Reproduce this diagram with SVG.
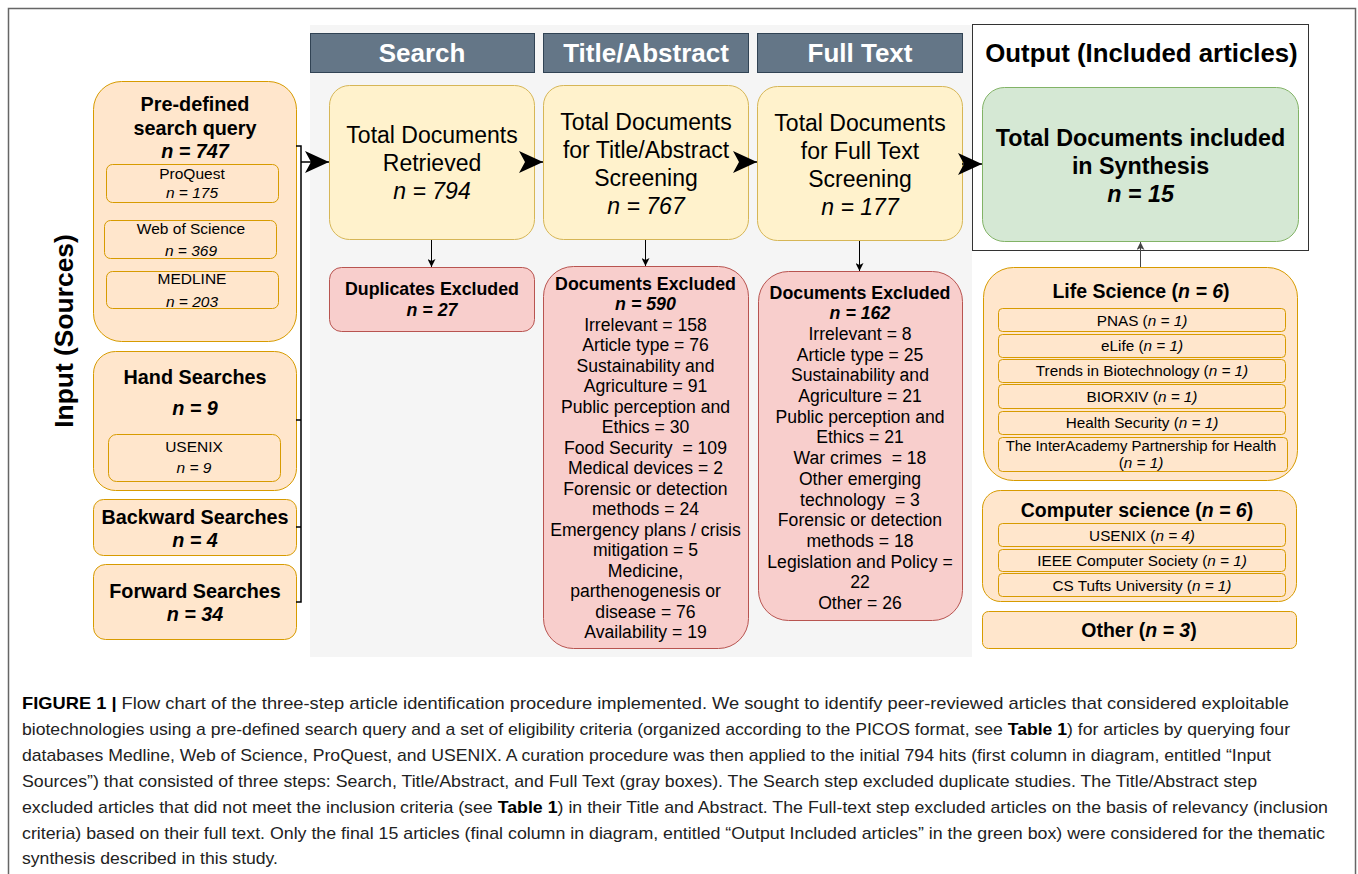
<svg xmlns="http://www.w3.org/2000/svg" width="1358" height="874" viewBox="0 0 1358 874">
  <style>
    text { font-family: "Liberation Sans", Arial, Helvetica, sans-serif; fill: #000; }
    .c { text-anchor: middle; }
    .b { font-weight: bold; }
    .i { font-style: italic; }
    .pre { white-space: pre; }
    .orange { fill: #ffe6cc; stroke: #d79b00; stroke-width: 1; }
    .yellow { fill: #fff2cc; stroke: #d6b656; stroke-width: 1; }
    .red { fill: #f8cecc; stroke: #b85450; stroke-width: 1; }
    .green { fill: #d5e8d4; stroke: #82b366; stroke-width: 1; }
    .head { fill: #647687; stroke: #314354; stroke-width: 1; }
    .headtxt { font-size: 26px; font-weight: bold; fill: #fff; text-anchor: middle; }
    .big { font-size: 23px; text-anchor: middle; }
    .src { font-size: 19.8px; font-weight: bold; text-anchor: middle; }
    .sub { font-size: 15.5px; text-anchor: middle; }
    .ex { font-size: 17.6px; text-anchor: middle; }
    .exb { font-size: 17.8px; font-weight: bold; text-anchor: middle; }
    .grp { font-size: 19.5px; font-weight: bold; text-anchor: middle; }
    .jr { font-size: 15.3px; text-anchor: middle; }
    .cap { font-size: 17px; fill: #222; font-family: "Liberation Sans Narrow", "Liberation Sans", Arial, sans-serif; }
    .wire { fill: none; stroke: #000; stroke-width: 1.5; }
    .thin { fill: none; stroke: #000; stroke-width: 1; }
  </style>
  <defs>
    <marker id="arrowBig" markerUnits="userSpaceOnUse" markerWidth="24" markerHeight="22" refX="24" refY="11" orient="auto" viewBox="0 0 24 22">
      <path d="M0,0 L24,11 L0,22 L6,11 Z" fill="#000"/>
    </marker>
    <marker id="arrowSmall" markerUnits="userSpaceOnUse" markerWidth="8" markerHeight="8" refX="8" refY="4" orient="auto" viewBox="0 0 8 8">
      <path d="M0,0 L8,4 L0,8 L2,4 Z" fill="#000"/>
    </marker>
    <marker id="arrowSmallGray" markerUnits="userSpaceOnUse" markerWidth="8" markerHeight="8" refX="8" refY="4" orient="auto" viewBox="0 0 8 8">
      <path d="M0,0 L8,4 L0,8 L2,4 Z" fill="#444"/>
    </marker>
  </defs>

  <rect x="0" y="0" width="1358" height="874" fill="#fff"/>
  <!-- figure frame -->
  <rect x="8.5" y="8.5" width="1347" height="880" fill="none" stroke="#666" stroke-width="1.5"/>

  <!-- screening stages panel -->
  <rect id="stage-panel" x="310" y="25" width="662" height="632" fill="#f5f5f5"/>

  <!-- output frame -->
  <g id="output-frame">
    <rect x="972.5" y="24.5" width="336" height="226" fill="#fff" stroke="#333" stroke-width="1"/>
    <text x="1141.5" y="62" class="b c" style="font-size:25.8px">Output (Included articles)</text>
  </g>

  <!-- stage headers -->
  <g id="header-search">
    <rect x="310.5" y="33.5" width="224" height="39" class="head"/>
    <text x="422" y="62" class="headtxt">Search</text>
  </g>
  <g id="header-title-abstract">
    <rect x="543.5" y="33.5" width="205" height="39" class="head"/>
    <text x="646" y="62" class="headtxt">Title/Abstract</text>
  </g>
  <g id="header-full-text">
    <rect x="757.5" y="33.5" width="205" height="39" class="head"/>
    <text x="860" y="62" class="headtxt">Full Text</text>
  </g>

  <!-- input column label -->
  <text id="input-label" x="0" y="0" class="b c" style="font-size:26.4px" transform="translate(72.5,331) rotate(-90)">Input (Sources)</text>

  <!-- input sources -->
  <g id="predefined-query">
    <rect x="93.5" y="81.5" width="203" height="260" rx="28" class="orange"/>
    <text x="195" y="111" class="src">Pre-defined</text>
    <text x="195" y="135" class="src">search query</text>
    <text x="195" y="158" class="src i">n = 747</text>
  </g>
  <g id="proquest">
    <rect x="106.5" y="164.5" width="172" height="38" rx="6" class="orange"/>
    <text x="192" y="178.5" class="sub">ProQuest</text>
    <text x="192" y="197.5" class="sub i">n = 175</text>
  </g>
  <g id="web-of-science">
    <rect x="104.5" y="220.5" width="172" height="38" rx="6" class="orange"/>
    <text x="191" y="233.5" class="sub">Web of Science</text>
    <text x="191" y="255.5" class="sub i">n = 369</text>
  </g>
  <g id="medline">
    <rect x="106.5" y="271.5" width="172" height="37" rx="6" class="orange"/>
    <text x="192" y="283.5" class="sub">MEDLINE</text>
    <text x="192" y="306.5" class="sub i">n = 203</text>
  </g>
  <g id="hand-searches">
    <rect x="93.5" y="351.5" width="203" height="139" rx="22" class="orange"/>
    <text x="195" y="383.5" class="src">Hand Searches</text>
    <text x="195" y="415" class="src i">n = 9</text>
  </g>
  <g id="usenix-input">
    <rect x="108.5" y="434.5" width="172" height="47" rx="8" class="orange"/>
    <text x="194" y="451.5" class="sub">USENIX</text>
    <text x="194" y="473" class="sub i">n = 9</text>
  </g>
  <g id="backward-searches">
    <rect x="93.5" y="499.5" width="203" height="56" rx="10" class="orange"/>
    <text x="195" y="523.5" class="src">Backward Searches</text>
    <text x="195" y="547" class="src i">n = 4</text>
  </g>
  <g id="forward-searches">
    <rect x="93.5" y="564.5" width="203" height="75" rx="12" class="orange"/>
    <text x="195" y="598" class="src">Forward Searches</text>
    <text x="195" y="621" class="src i">n = 34</text>
  </g>

  <!-- stage totals -->
  <g id="total-retrieved">
    <rect x="329.5" y="85.5" width="205" height="154" rx="20" class="yellow"/>
    <text x="432" y="143" class="big">Total Documents</text>
    <text x="432" y="171" class="big">Retrieved</text>
    <text x="432" y="199" class="big i">n = 794</text>
  </g>
  <g id="total-title-abstract">
    <rect x="543.5" y="85.5" width="205" height="154" rx="20" class="yellow"/>
    <text x="646" y="130" class="big">Total Documents</text>
    <text x="646" y="158" class="big">for Title/Abstract</text>
    <text x="646" y="186" class="big">Screening</text>
    <text x="646" y="214" class="big i">n = 767</text>
  </g>
  <g id="total-full-text">
    <rect x="757.5" y="86.5" width="205" height="154" rx="20" class="yellow"/>
    <text x="860" y="131" class="big">Total Documents</text>
    <text x="860" y="159" class="big">for Full Text</text>
    <text x="860" y="187" class="big">Screening</text>
    <text x="860" y="215" class="big i">n = 177</text>
  </g>

  <!-- exclusions -->
  <g id="duplicates-excluded">
    <rect x="329.5" y="267.5" width="205" height="64" rx="12" class="red"/>
    <text x="432" y="294.5" class="exb">Duplicates Excluded</text>
    <text x="432" y="315.5" class="exb i">n = 27</text>
  </g>
  <g id="title-abstract-excluded">
    <rect x="543.5" y="266.5" width="205" height="382" rx="30" class="red"/>
    <text x="645.5" y="289.5" class="exb">Documents Excluded</text>
    <text x="645.5" y="310" class="exb i">n = 590</text>
    <text x="645.5" y="330.5" class="ex">Irrelevant = 158</text>
    <text x="645.5" y="351" class="ex">Article type = 76</text>
    <text x="645.5" y="371.5" class="ex">Sustainability and</text>
    <text x="645.5" y="392" class="ex">Agriculture = 91</text>
    <text x="645.5" y="412.5" class="ex">Public perception and</text>
    <text x="645.5" y="433" class="ex">Ethics = 30</text>
    <text x="645.5" y="453.5" class="ex pre">Food Security  = 109</text>
    <text x="645.5" y="474" class="ex">Medical devices = 2</text>
    <text x="645.5" y="494.5" class="ex">Forensic or detection</text>
    <text x="645.5" y="515" class="ex">methods = 24</text>
    <text x="645.5" y="535.5" class="ex">Emergency plans / crisis</text>
    <text x="645.5" y="556" class="ex">mitigation = 5</text>
    <text x="645.5" y="576.5" class="ex">Medicine,</text>
    <text x="645.5" y="597" class="ex">parthenogenesis or</text>
    <text x="645.5" y="617.5" class="ex">disease = 76</text>
    <text x="645.5" y="638" class="ex">Availability = 19</text>
  </g>
  <g id="full-text-excluded">
    <rect x="758.5" y="271.5" width="204" height="349" rx="30" class="red"/>
    <text x="860" y="298.5" class="exb">Documents Excluded</text>
    <text x="860" y="319.2" class="exb i">n = 162</text>
    <text x="860" y="339.9" class="ex">Irrelevant = 8</text>
    <text x="860" y="360.6" class="ex">Article type = 25</text>
    <text x="860" y="381.3" class="ex">Sustainability and</text>
    <text x="860" y="402" class="ex">Agriculture = 21</text>
    <text x="860" y="422.7" class="ex">Public perception and</text>
    <text x="860" y="443.4" class="ex">Ethics = 21</text>
    <text x="860" y="464.1" class="ex pre">War crimes  = 18</text>
    <text x="860" y="484.8" class="ex">Other emerging</text>
    <text x="860" y="505.5" class="ex pre">technology  = 3</text>
    <text x="860" y="526.2" class="ex">Forensic or detection</text>
    <text x="860" y="546.9" class="ex">methods = 18</text>
    <text x="860" y="567.6" class="ex">Legislation and Policy =</text>
    <text x="860" y="588.3" class="ex">22</text>
    <text x="860" y="609" class="ex">Other = 26</text>
  </g>

  <!-- output -->
  <g id="included-synthesis">
    <rect x="982.5" y="87.5" width="316" height="154" rx="22" class="green"/>
    <text x="1140.5" y="145.5" class="b c" style="font-size:23.3px">Total Documents included</text>
    <text x="1140.5" y="174" class="b c" style="font-size:23.3px">in Synthesis</text>
    <text x="1140.5" y="201.5" class="b c i" style="font-size:23.3px">n = 15</text>
  </g>
  <g id="life-science">
    <rect x="983.5" y="267.5" width="314" height="213" rx="30" class="orange"/>
    <text x="1141" y="298" class="grp">Life Science (<tspan class="i">n = 6</tspan>)</text>
  </g>
  <g id="pnas">
    <rect x="998.5" y="308.5" width="287" height="23" rx="4" class="orange"/>
    <text x="1142" y="326" class="jr">PNAS (<tspan class="i">n = 1)</tspan></text>
  </g>
  <g id="elife">
    <rect x="998.5" y="334.5" width="287" height="23" rx="4" class="orange"/>
    <text x="1142" y="351.2" class="jr">eLife (<tspan class="i">n = 1)</tspan></text>
  </g>
  <g id="trends-biotech">
    <rect x="998.5" y="359.5" width="287" height="23" rx="4" class="orange"/>
    <text x="1142" y="376" class="jr">Trends in Biotechnology (<tspan class="i">n = 1)</tspan></text>
  </g>
  <g id="biorxiv">
    <rect x="998.5" y="384.5" width="287" height="24" rx="4" class="orange"/>
    <text x="1142" y="402" class="jr">BIORXIV (<tspan class="i">n = 1)</tspan></text>
  </g>
  <g id="health-security">
    <rect x="998.5" y="411.5" width="287" height="23" rx="4" class="orange"/>
    <text x="1142" y="428" class="jr">Health Security (<tspan class="i">n = 1)</tspan></text>
  </g>
  <g id="interacademy">
    <rect x="998.5" y="437.5" width="289" height="34" rx="4" class="orange"/>
    <text x="1141" y="450.5" class="jr" style="font-size:14.9px">The InterAcademy Partnership for Health</text>
    <text x="1141" y="468" class="jr">(<tspan class="i">n = 1)</tspan></text>
  </g>
  <g id="computer-science">
    <rect x="982.5" y="490.5" width="314" height="111" rx="18" class="orange"/>
    <text x="1137" y="516.5" class="grp">Computer science (<tspan class="i">n = 6</tspan>)</text>
  </g>
  <g id="usenix-output">
    <rect x="998.5" y="523.5" width="287" height="23" rx="4" class="orange"/>
    <text x="1142" y="540.5" class="jr">USENIX (<tspan class="i">n = 4)</tspan></text>
  </g>
  <g id="ieee">
    <rect x="998.5" y="549.5" width="287" height="22" rx="4" class="orange"/>
    <text x="1142" y="565.5" class="jr">IEEE Computer Society (<tspan class="i">n = 1)</tspan></text>
  </g>
  <g id="cs-tufts">
    <rect x="998.5" y="573.5" width="287" height="23" rx="4" class="orange"/>
    <text x="1142" y="590.5" class="jr">CS Tufts University (<tspan class="i">n = 1)</tspan></text>
  </g>
  <g id="other">
    <rect x="982.5" y="611.5" width="314" height="37" rx="6" class="orange"/>
    <text x="1139" y="637" class="grp">Other (<tspan class="i">n = 3</tspan>)</text>
  </g>

  <!-- connectors -->
  <g id="connectors">
    <!-- bracket collecting the input sources -->
    <path class="wire" d="M296,146 H301 V602 H296 M296,420 H301 M296,527 H301"/>
    <line class="wire" x1="301" y1="162" x2="329" y2="162" marker-end="url(#arrowBig)"/>
    <line class="wire" x1="534" y1="162" x2="543" y2="162" marker-end="url(#arrowBig)"/>
    <line class="wire" x1="748" y1="162" x2="757" y2="162" marker-end="url(#arrowBig)"/>
    <line class="wire" x1="962" y1="164" x2="982" y2="164" marker-end="url(#arrowBig)"/>
    <line class="thin" x1="431.5" y1="240" x2="431.5" y2="267" marker-end="url(#arrowSmall)"/>
    <line class="thin" x1="645.5" y1="240" x2="645.5" y2="266" marker-end="url(#arrowSmall)"/>
    <line class="thin" x1="859.5" y1="241" x2="859.5" y2="271" marker-end="url(#arrowSmall)"/>
    <line x1="1140.5" y1="267" x2="1140.5" y2="242" stroke="#444" stroke-width="1" marker-end="url(#arrowSmallGray)"/>
  </g>

  <!-- caption -->
  <g id="caption">
    <text class="cap" x="22" y="709" textLength="1267" lengthAdjust="spacingAndGlyphs"><tspan font-weight="bold" fill="#000">FIGURE 1 |</tspan> Flow chart of the three-step article identification procedure implemented. We sought to identify peer-reviewed articles that considered exploitable</text>
    <text class="cap" x="22" y="735" textLength="1268" lengthAdjust="spacingAndGlyphs">biotechnologies using a pre-defined search query and a set of eligibility criteria (organized according to the PICOS format, see <tspan font-weight="bold" fill="#000">Table 1</tspan>) for articles by querying four</text>
    <text class="cap" x="22" y="761" textLength="1249" lengthAdjust="spacingAndGlyphs">databases Medline, Web of Science, ProQuest, and USENIX. A curation procedure was then applied to the initial 794 hits (first column in diagram, entitled “Input</text>
    <text class="cap" x="22" y="787" textLength="1235" lengthAdjust="spacingAndGlyphs">Sources”) that consisted of three steps: Search, Title/Abstract, and Full Text (gray boxes). The Search step excluded duplicate studies. The Title/Abstract step</text>
    <text class="cap" x="22" y="813" textLength="1306" lengthAdjust="spacingAndGlyphs">excluded articles that did not meet the inclusion criteria (see <tspan font-weight="bold" fill="#000">Table 1</tspan>) in their Title and Abstract. The Full-text step excluded articles on the basis of relevancy (inclusion</text>
    <text class="cap" x="22" y="839" textLength="1303" lengthAdjust="spacingAndGlyphs">criteria) based on their full text. Only the final 15 articles (final column in diagram, entitled “Output Included articles” in the green box) were considered for the thematic</text>
    <text class="cap" x="22" y="864" textLength="256" lengthAdjust="spacingAndGlyphs">synthesis described in this study.</text>
  </g>
</svg>
